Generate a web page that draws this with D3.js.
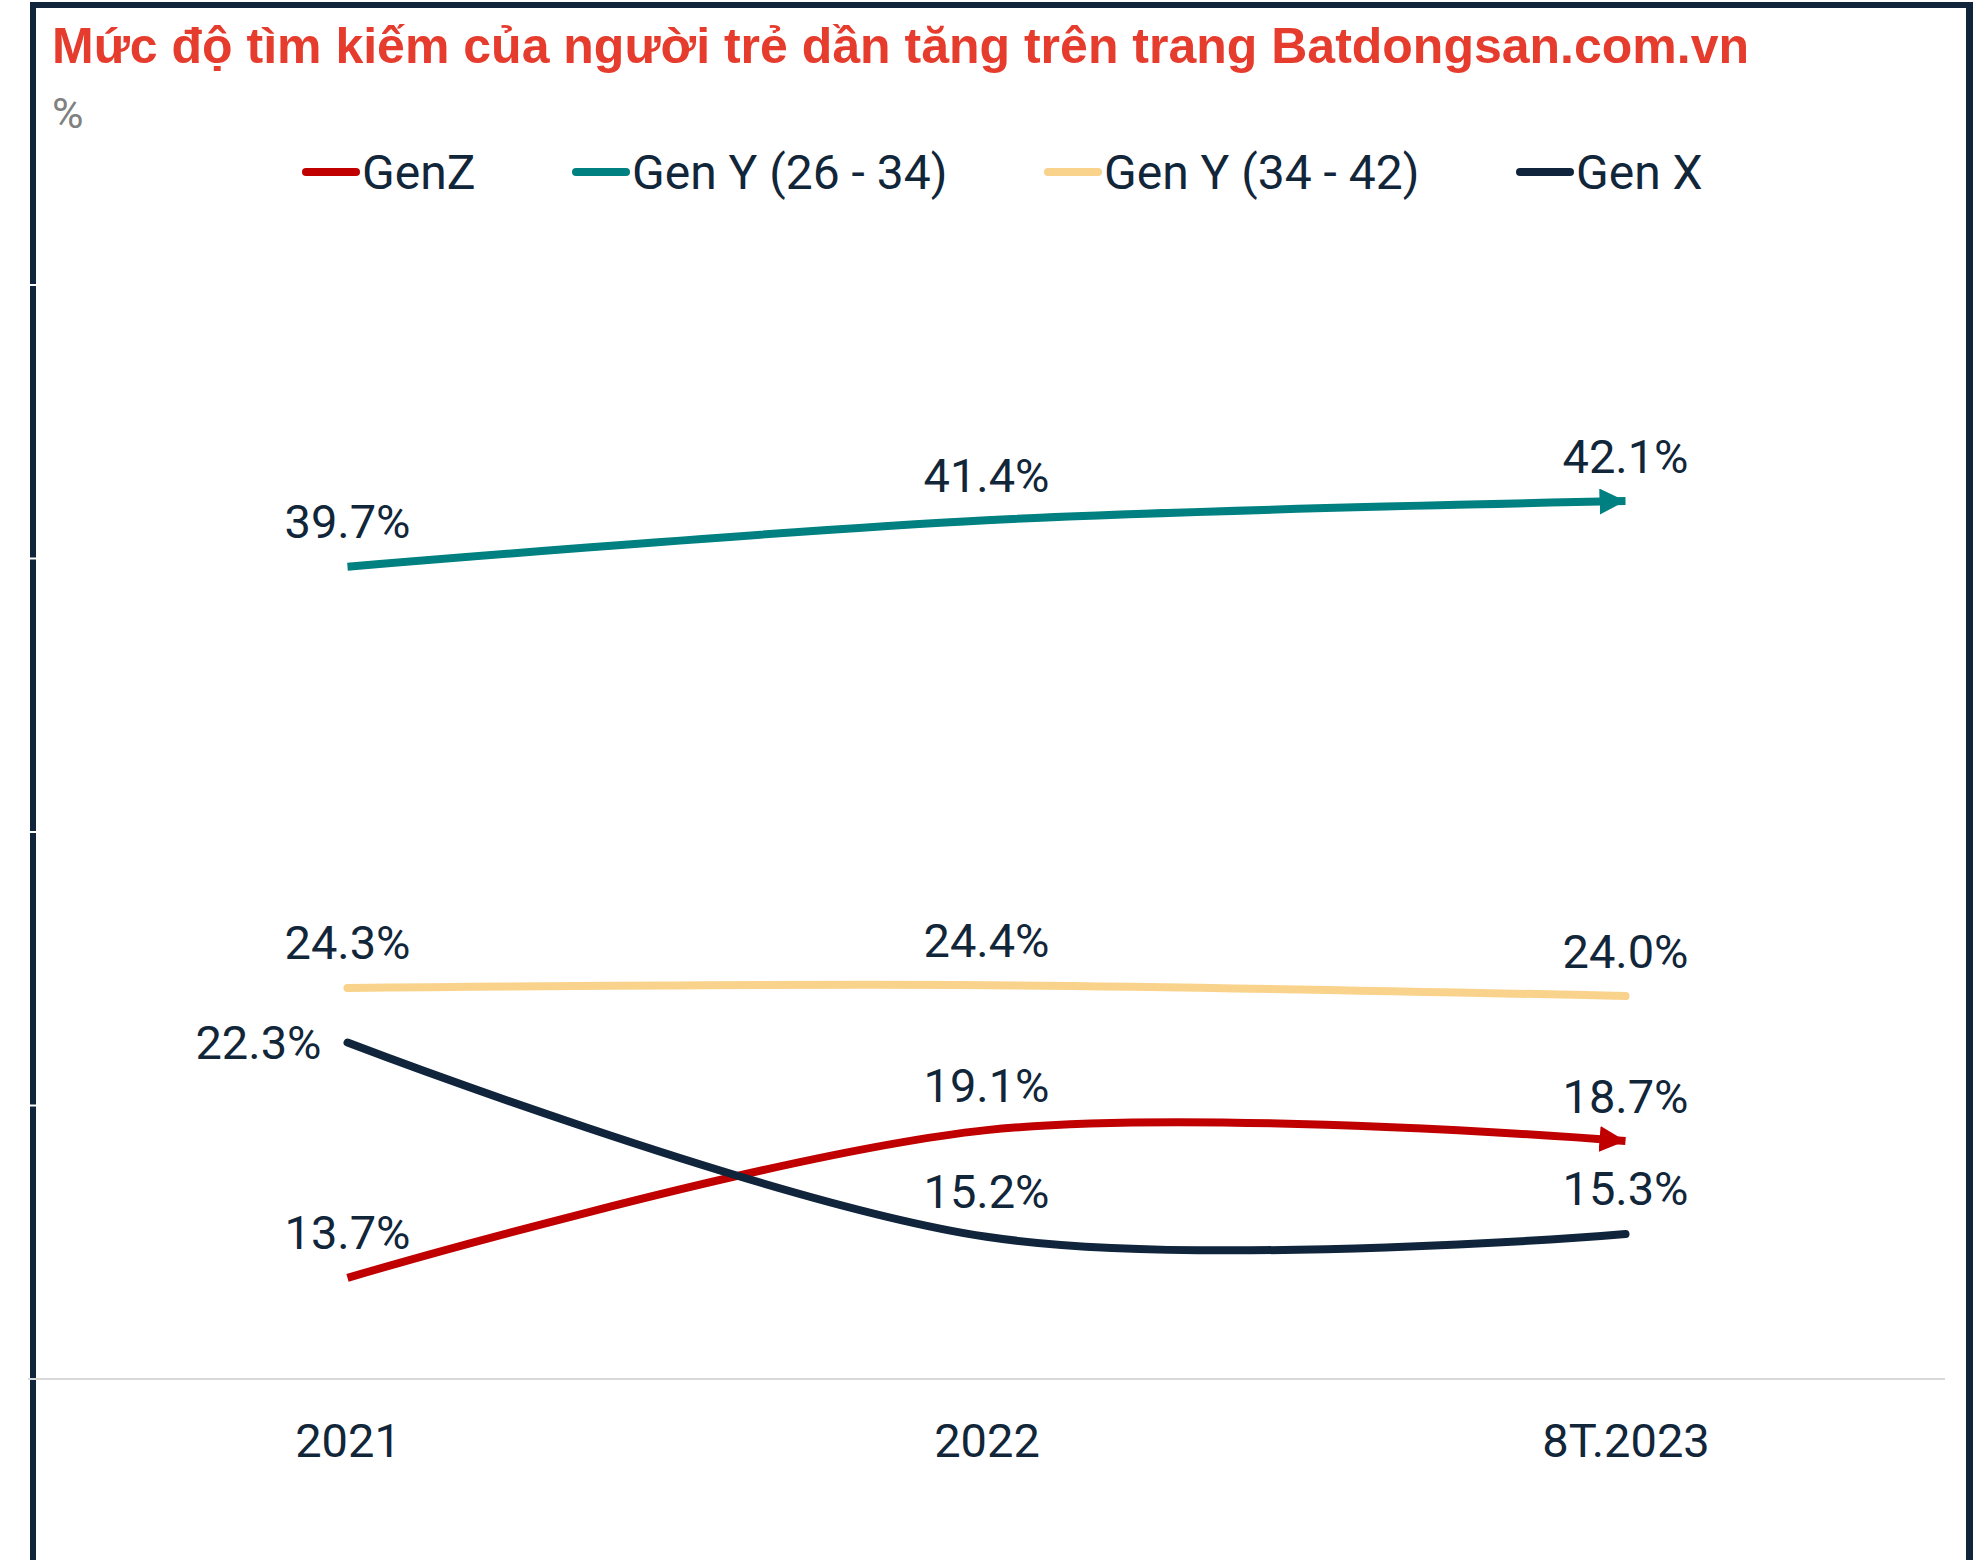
<!DOCTYPE html>
<html><head><meta charset="utf-8">
<script src="https://cdn.jsdelivr.net/npm/d3@7"></script>
<style>
html,body{margin:0;padding:0;background:#fff;}
svg{display:block;}
</style></head>
<body>
<script>
const categories = ["2021", "2022", "8T.2023"];
const genZ = [13.7, 19.1, 18.7];
const genY1 = [39.7, 41.4, 42.1];
const genY2 = [24.3, 24.4, 24.0];
const genX = [22.3, 15.2, 15.3];
const seriesNames = ["GenZ", "Gen Y (26 - 34)", "Gen Y (34 - 42)", "Gen X"];
const seriesColors = ["#c00000", "#008080", "#f9d38c", "#10253b"];
const yTicks = [10, 20, 30, 40, 50, 60];
const titleText = "Mức độ tìm kiếm của người trẻ dần tăng trên trang Batdongsan.com.vn";
const unitText = "%";

const W = 1973, H = 1560;
const dark = "#10253b";
const textColor = "#12263a";

const svg = d3.select("body").append("svg").attr("width", W).attr("height", H);
svg.append("rect").attr("width", W).attr("height", H).attr("fill", "#fff");

const x = d3.scalePoint().domain(categories).range([28, 1945]).padding(0.5);
const y = d3.scaleLinear().domain([10, 50]).range([1379, 285]);

// frame
svg.append("rect").attr("x", 30).attr("y", 2).attr("width", W - 30).attr("height", 6).attr("fill", dark);
svg.append("rect").attr("x", 30).attr("y", 2).attr("width", 6).attr("height", H).attr("fill", dark);
svg.append("rect").attr("x", 1966).attr("y", 2).attr("width", 7).attr("height", H).attr("fill", dark);

// gridlines (white, visible only over the frame) and baseline
svg.append("g").selectAll("line").data(yTicks.filter(t => t > 10 && t <= 50)).join("line")
  .attr("x1", 28).attr("x2", 1945)
  .attr("y1", d => y(d)).attr("y2", d => y(d))
  .attr("stroke", "#ffffff").attr("stroke-width", 2);
svg.append("line").attr("x1", 28).attr("x2", 1945).attr("y1", y(10)).attr("y2", y(10))
  .attr("stroke", "#d9d9d9").attr("stroke-width", 2);

// x axis
const xAxis = d3.axisBottom(x).tickSize(0).tickPadding(0);
const gx = svg.append("g").attr("transform", `translate(0,${y(10)})`).call(xAxis);
gx.select(".domain").remove();
gx.selectAll("text").attr("y", 62).attr("dy", "0.35em")
  .attr("font-family", "Roboto").attr("font-size", 47).attr("fill", textColor);

// title
svg.append("text").attr("x", 52).attr("y", 63).text(titleText)
  .attr("font-family", "Liberation Sans, Arial, sans-serif").attr("font-weight", "bold")
  .attr("font-size", 50).attr("fill", "#e53c2e");
svg.append("text").attr("x", 52).attr("y", 128).text(unitText)
  .attr("font-family", "Roboto").attr("font-size", 43).attr("fill", "#808080");

// markers
const defs = svg.append("defs");
[0, 1].forEach(i => {
  defs.append("marker").attr("id", "arrow" + i)
    .attr("markerUnits", "userSpaceOnUse")
    .attr("viewBox", "0 0 26 26").attr("refX", 26).attr("refY", 13)
    .attr("markerWidth", 26).attr("markerHeight", 26).attr("orient", "auto")
    .append("path").attr("d", "M0,0 L26,13 L0,26 Z").attr("fill", seriesColors[i]);
});

const allSeries = [genZ, genY1, genY2, genX];
const line = d3.line()
  .x((d, i) => x(categories[i]))
  .y(d => y(d))
  .curve(d3.curveCardinal.tension(0));

const drawOrder = [2, 1, 0, 3];
drawOrder.forEach(si => {
  const p = svg.append("path").datum(allSeries[si]).attr("d", line)
    .attr("fill", "none").attr("stroke", seriesColors[si]).attr("stroke-width", 8)
    .attr("stroke-linecap", si < 2 ? "butt" : "round");
  if (si < 2) p.attr("marker-end", `url(#arrow${si})`);
});

// data labels
const lblG = svg.append("g").attr("font-family", "Roboto").attr("font-size", 47).attr("fill", textColor);
allSeries.forEach((vals, si) => {
  vals.forEach((v, i) => {
    const t = lblG.append("text").text(v.toFixed(1) + "%");
    if (si === 3 && i === 0) {
      t.attr("x", x(categories[i]) - 26).attr("y", y(v)).attr("dy", "0.35em").attr("text-anchor", "end");
    } else {
      t.attr("x", x(categories[i])).attr("y", y(v) - 45).attr("dy", "0.35em").attr("text-anchor", "middle");
    }
  });
});

// legend
const legendX = [302, 572, 1044, 1516];
const lg = svg.append("g");
seriesNames.forEach((n, i) => {
  lg.append("line").attr("x1", legendX[i] + 4).attr("x2", legendX[i] + 54).attr("y1", 172).attr("y2", 172)
    .attr("stroke", seriesColors[i]).attr("stroke-width", 8).attr("stroke-linecap", "round");
  lg.append("text").attr("x", legendX[i] + 60).attr("y", 172).attr("dy", "0.35em").text(n)
    .attr("font-family", "Roboto").attr("font-size", 48).attr("fill", textColor);
});
</script>
</body></html>
